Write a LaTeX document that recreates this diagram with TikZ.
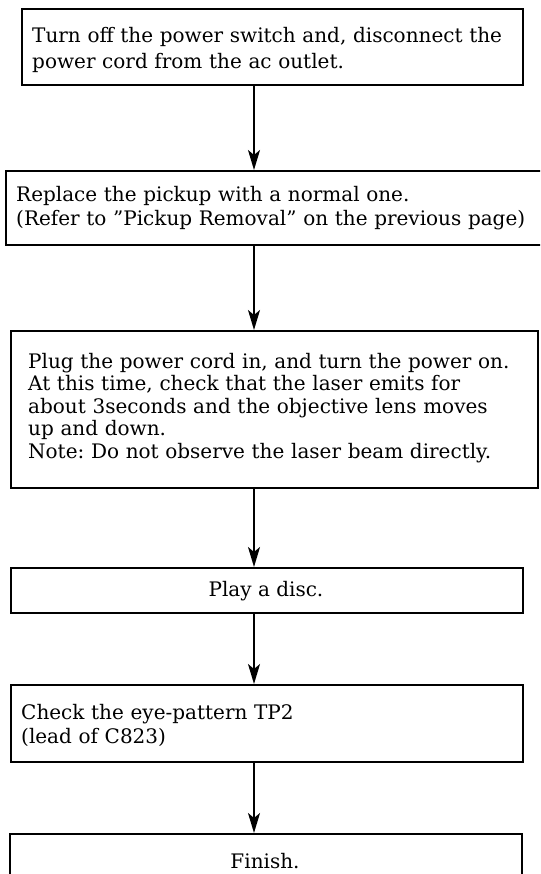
\documentclass[tikz,border=0pt]{standalone}
\usepackage{fontspec}
\setmainfont{DejaVu Serif}
\usetikzlibrary{arrows.meta}
\frenchspacing
\begin{document}
\begin{tikzpicture}[x=1pt,y=-1pt,
  box/.style={draw=black,line width=1.8pt,rectangle,inner sep=0pt,anchor=north west},
  txt/.style={inner sep=0pt,align=left,text width=560pt,anchor=base west},
  ctxt/.style={inner sep=0pt,anchor=base},
  arr/.style={line width=1.6pt,-{Stealth[length=20pt,width=12pt,inset=5pt]}}]
\useasboundingbox (0,0) rectangle (540,874);
\clip (0,0) rectangle (540,874);
\node[box,minimum width=501pt,minimum height=76pt] (b1) at (21,8) {};
\node[box,minimum width=540pt,minimum height=74pt] (b2) at (5,170) {};
\node[box,minimum width=527pt,minimum height=157pt] (b3) at (10,330) {};
\node[box,minimum width=512pt,minimum height=45pt] (b4) at (10,567) {};
\node[box,minimum width=512pt,minimum height=77pt] (b5) at (10,684) {};
\node[box,minimum width=512pt,minimum height=57pt] (b6) at (9,833) {};
\node[txt,font=\fontsize{20}{26}\selectfont] (t1) at (32,43)
  {Turn off the power switch and, disconnect the\\power cord from the ac outlet.};
\node[txt,font=\fontsize{20}{24}\selectfont] (t2) at (16,202)
  {Replace the pickup with a normal one.\\(Refer to ''Pickup Removal'' on the previous page)};
\node[txt,font=\fontsize{20}{22.5}\selectfont] (t3) at (28,368)
  {Plug the power cord in, and turn the power on.\\At this time, check that the laser emits for\\about 3seconds and the objective lens moves\\up and down.\\Note: Do not observe the laser beam directly.};
\node[ctxt,font=\fontsize{20}{24}\selectfont] (t4) at (266,596) {Play a disc.};
\node[txt,font=\fontsize{20}{24}\selectfont] (t5) at (21,719)
  {Check the eye-pattern TP2\\(lead of C823)};
\node[ctxt,font=\fontsize{20}{24}\selectfont] (t6) at (265,868) {Finish.};
\coordinate (ax) at (254,0);
\draw[arr] (b1.south -| ax) -- (b2.north -| ax);
\draw[arr] (b2.south -| ax) -- (b3.north -| ax);
\draw[arr] (b3.south -| ax) -- (b4.north -| ax);
\draw[arr] (b4.south -| ax) -- (b5.north -| ax);
\draw[arr] (b5.south -| ax) -- (b6.north -| ax);
\end{tikzpicture}
\end{document}
